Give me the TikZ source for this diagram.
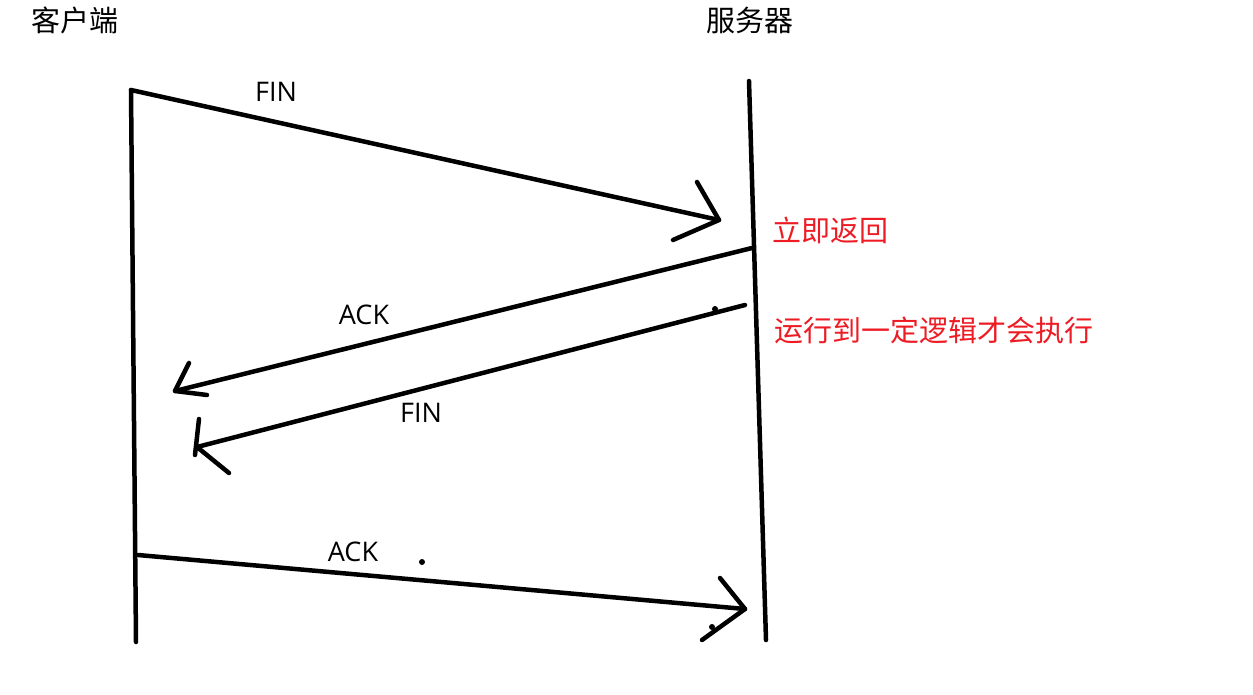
\documentclass[tikz,border=0pt]{standalone}
\usepackage{fontspec}
\setmainfont{Noto Sans CJK SC}
\newfontfamily\latinfont{Open Sans}
\usepackage{tikz}
\usetikzlibrary{positioning}
\definecolor{notered}{RGB}{237,28,36}

\begin{document}
\begin{tikzpicture}[
        x=1pt, y=-1pt,
        lifeline/.style={line width=4.5pt, line cap=round},
        msg/.style={line width=4.5pt, line cap=round, line join=round},
        title/.style={font=\fontsize{29}{32}\selectfont, inner sep=0pt},
        label/.style={font=\latinfont\fontsize{27}{30}\selectfont, inner sep=0pt},
        note/.style={font=\fontsize{29}{32}\selectfont, inner sep=0pt, text=notered},
        blot/.style={fill=black}
    ]
        \useasboundingbox (0,0) rectangle (1253,694);

        \node (client) [title] at (75,20) {客户端};
        \node (server) [title] at (750,20) {服务器};

        % lifelines
        \coordinate (c_top) at (131,90);
        \coordinate (c_bot) at (136,642);
        \coordinate (s_top) at (749,81);
        \coordinate (s_bot) at (766,640);
        \draw [lifeline] (c_top) -- (c_bot);
        \draw [lifeline] (s_top) -- (s_bot);

        % messages
        \coordinate (fin1_tip) at (719,220);
        \draw [msg] (c_top) -- (fin1_tip);
        \draw [msg] (697,182) -- (fin1_tip) -- (673,240);
        \node (fin1) [label] at (276,92) {FIN};

        \coordinate (ack1_from) at (752,248);
        \coordinate (ack1_tip) at (175,391);
        \draw [msg] (ack1_from) -- (ack1_tip);
        \draw [msg] (189,363) -- (ack1_tip) -- (207,395);
        \node (ack1) [label] at (364,315) {ACK};
        \node (ret) [note] at (830,230) {立即返回};

        \coordinate (fin2_from) at (745,305);
        \coordinate (fin2_tip) at (197,447);
        \draw [msg] (fin2_from) -- (fin2_tip);
        \draw [msg] (199,419) -- (195,455);
        \draw [msg] (fin2_tip) -- (229,473);
        \node (fin2) [label] at (421,413) {FIN};
        \node (logic) [note] at (934,330) {运行到一定逻辑才会执行};

        \coordinate (ack2_from) at (138,555);
        \coordinate (ack2_tip) at (745,609);
        \draw [msg] (ack2_from) -- (ack2_tip);
        \draw [msg] (720,578) -- (ack2_tip) -- (702,640);
        \node (ack2) [label] at (353,552) {ACK};

        % stray marks
        \fill [blot] (715,309) circle (3);
        \fill [blot] (422,562) circle (3);
        \fill [blot] (712,627) circle (3);
\end{tikzpicture}
\end{document}
